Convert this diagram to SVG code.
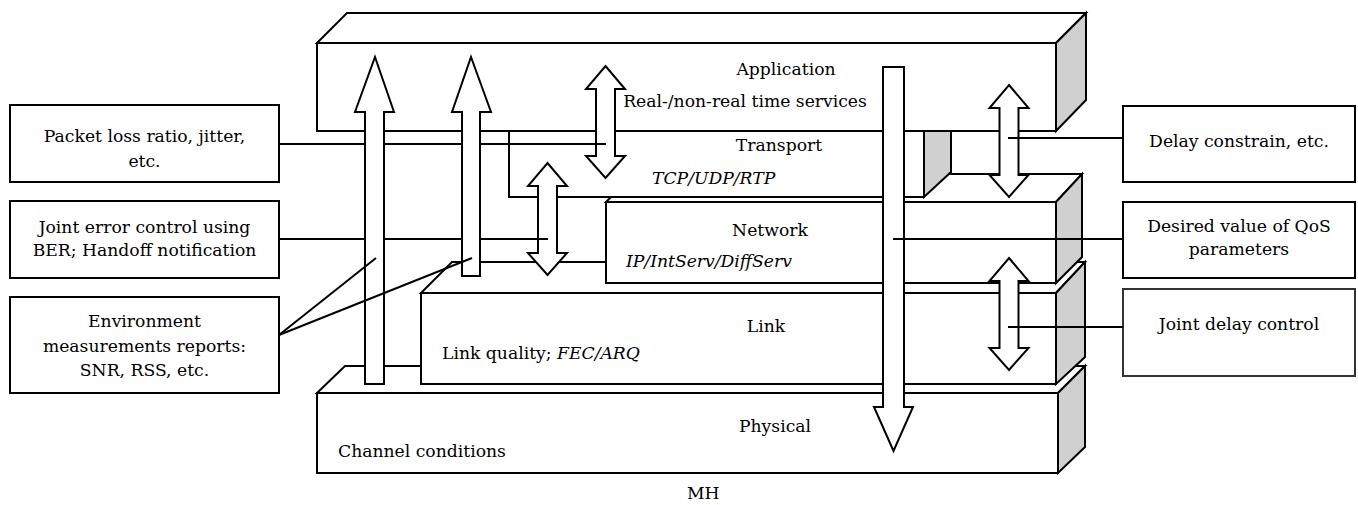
<svg xmlns="http://www.w3.org/2000/svg" xmlns:xlink="http://www.w3.org/1999/xlink" width="1358" height="505" viewBox="0 0 1358 505">
<style>
  .face { fill: #ffffff; stroke: #000000; stroke-width: 2; stroke-linejoin: miter; }
  .side { fill: #d0d0d0; stroke: #000000; stroke-width: 2; stroke-linejoin: miter; }
  .box { fill: #ffffff; stroke: #000000; stroke-width: 2; }
  .arrow { fill: #ffffff; stroke: #000000; stroke-width: 2; stroke-linejoin: miter; }
  .line { fill: none; stroke: #000000; stroke-width: 2; }
  .t { font-family: 'DejaVu Serif', serif; font-size: 17.2px; fill: #000000; }
  .c { text-anchor: middle; }
  .i { font-style: italic; }
</style>
<defs>
  <path id="dbl" d="M0,0 L19.5,23 L9.5,23 L9.5,90 L19.5,90 L0,112 L-19.5,90 L-9.5,90 L-9.5,23 L-19.5,23 Z"/>
</defs>
<rect x="0" y="0" width="1358" height="505" fill="#ffffff"/>

<g id="layer-physical">
  <polygon class="face" points="317,393 345,366 1085,366 1058,393"/>
  <rect class="face" x="317" y="393" width="741" height="80"/>
  <polygon class="side" points="1058,393 1085,366 1085,447 1058,473"/>
  <text class="t c" x="775" y="432">Physical</text>
  <text class="t" x="338" y="457">Channel conditions</text>
</g>

<g id="layer-link">
  <polygon class="face" points="421,293 452,262 1085,262 1056,293"/>
  <rect class="face" x="421" y="293" width="635" height="91"/>
  <polygon class="side" points="1056,293 1085,262 1085,357 1056,384"/>
  <text class="t c" x="766" y="332">Link</text>
  <text class="t" x="442" y="359">Link quality; <tspan class="i">FEC/ARQ</tspan></text>
</g>

<g id="layer-network">
  <polygon class="face" points="606,202 634,174 1082,174 1056,202"/>
  <rect class="face" x="606" y="202" width="450" height="81"/>
  <polygon class="side" points="1056,202 1082,174 1082,257 1056,283"/>
  <text class="t c" x="770" y="236">Network</text>
  <text class="t i" x="626" y="267">IP/IntServ/DiffServ</text>
</g>

<g id="layer-transport">
  <polygon class="face" points="509,131 536,104 951,104 924,131"/>
  <rect class="face" x="509" y="131" width="415" height="66"/>
  <polygon class="side" points="924,131 951,104 951,172 924,197"/>
  <text class="t c" x="779" y="151">Transport</text>
  <text class="t i" x="652" y="184">TCP/UDP/RTP</text>
</g>

<g id="layer-application">
  <polygon class="face" points="317,43 347,13 1086,13 1056,43"/>
  <rect class="face" x="317" y="43" width="739" height="88"/>
  <polygon class="side" points="1056,43 1086,13 1086,100 1056,131"/>
  <text class="t c" x="786" y="75">Application</text>
  <text class="t c" x="745" y="107">Real-/non-real time services</text>
</g>

<g id="box-packet-loss">
  <rect class="box" x="10" y="105" width="269" height="77"/>
  <text class="t c" x="144.5" y="142">Packet loss ratio, jitter,</text>
  <text class="t c" x="144.5" y="167">etc.</text>
</g>

<g id="box-joint-error">
  <rect class="box" x="10" y="201" width="269" height="77"/>
  <text class="t c" x="144.5" y="233">Joint error control using</text>
  <text class="t c" x="144.5" y="256">BER; Handoff notification</text>
</g>

<g id="box-environment">
  <rect class="box" x="10" y="297" width="269" height="96"/>
  <text class="t c" x="144.5" y="327">Environment</text>
  <text class="t c" x="144.5" y="352">measurements reports:</text>
  <text class="t c" x="144.5" y="376">SNR, RSS, etc.</text>
</g>

<g id="box-delay-constrain">
  <rect class="box" x="1123" y="106" width="232" height="76"/>
  <text class="t c" x="1239" y="147">Delay constrain, etc.</text>
</g>

<g id="box-qos">
  <rect class="box" x="1123" y="202" width="232" height="76"/>
  <text class="t c" x="1239" y="232">Desired value of QoS</text>
  <text class="t c" x="1239" y="255">parameters</text>
</g>

<g id="box-joint-delay">
  <rect class="box" x="1123" y="289" width="232" height="87" style="stroke:#333333"/>
  <text class="t c" x="1239" y="330">Joint delay control</text>
</g>

<g id="connectors">
  <use xlink:href="#dbl" class="arrow" transform="translate(605.5,66)"/>
  <use xlink:href="#dbl" class="arrow" transform="translate(547.5,163)"/>
  <use xlink:href="#dbl" class="arrow" transform="translate(1009,85)"/>
  <use xlink:href="#dbl" class="arrow" transform="translate(1009,258)"/>

  <line class="line" x1="279" y1="144" x2="606" y2="144"/>
  <line class="line" x1="279" y1="239" x2="548" y2="239"/>

  <path class="arrow" d="M375,57 L394,112 L384,112 L384,384 L365,384 L365,112 L355,112 Z"/>
  <path class="arrow" d="M471,57 L491,112 L480,112 L480,276 L462,276 L462,112 L452,112 Z"/>
  <path class="arrow" d="M883,67 L904,67 L904,407 L913,407 L893.5,451 L874,407 L883,407 Z"/>

  <line class="line" x1="1008" y1="138" x2="1123" y2="138"/>
  <line class="line" x1="893" y1="239" x2="1123" y2="239"/>
  <line class="line" x1="1008" y1="327" x2="1123" y2="327"/>

  <line class="line" x1="279" y1="335" x2="376" y2="258"/>
  <line class="line" x1="279" y1="335" x2="472" y2="258"/>
</g>

<g id="label-mh">
  <text class="t" x="687" y="499">MH</text>
</g>
</svg>
